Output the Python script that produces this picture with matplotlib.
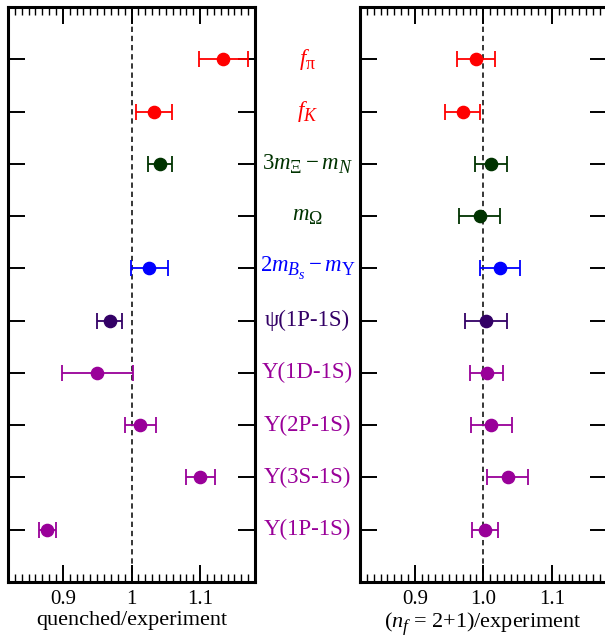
import numpy as np
import matplotlib
matplotlib.use('Agg')
import matplotlib.pyplot as plt
from matplotlib.ticker import MultipleLocator, FixedLocator, FixedFormatter
import matplotlib.transforms as mtransforms

try:
    import matplotlib._mathtext as _mt
    _mt.SHRINK_FACTOR = 0.78
    _mt.FontConstantsBase.sub1 = 0.45
    _mt.FontConstantsBase.sub2 = 0.55
except Exception:
    pass

plt.rcParams['font.family'] = ['Liberation Serif', 'DejaVu Serif']
plt.rcParams['mathtext.fontset'] = 'custom'
plt.rcParams['mathtext.rm'] = 'Liberation Serif'
plt.rcParams['mathtext.it'] = 'Liberation Serif:italic'
plt.rcParams['mathtext.bf'] = 'Liberation Serif:bold'

# ---- data ----
labels = [r'$f_{\mathrm{π}}$', r'$f_K$', r'$3m_{\mathrm{Ξ}} - m_N$', r'$m_{\mathrm{Ω}}$',
          r'$2m_{B_s} - m_{\mathrm{Υ}}$', 'ψ(1P-1S)', 'Υ(1D-1S)', 'Υ(2P-1S)',
          'Υ(3S-1S)', 'Υ(1P-1S)']
row_colors = ['#ff0000', '#ff0000', '#003300', '#003300', '#0000ff', '#330066',
              '#990099', '#990099', '#990099', '#990099']
quenched = [1.134, 1.033, 1.042, np.nan, 1.026, 0.968, 0.950, 1.013, 1.100, 0.877]
quenched_err = [0.036, 0.026, 0.0175, np.nan, 0.027, 0.018, 0.052, 0.023, 0.021, 0.0125]
unquenched = [0.989, 0.970, 1.011, 0.995, 1.024, 1.004, 1.005, 1.012, 1.036, 1.003]
unquenched_err = [0.028, 0.0256, 0.023, 0.030, 0.029, 0.030, 0.024, 0.030, 0.030, 0.019]
left_ticks = [0.9, 1.0, 1.1]
left_ticklabels = ['0.9', '1', '1.1']
right_ticks = [0.9, 1.0, 1.1]
right_ticklabels = ['0.9', '1.0', '1.1']
left_xlabel = 'quenched/experiment'
right_xlabel = r'($n_f$ = 2+1)/experiment'

W, H = 605, 641
fig = plt.figure(figsize=(W / 100, H / 100), dpi=100)

ax1 = fig.add_axes([8 / W, (H - 582) / H, 247 / W, 575 / H])
ax2 = fig.add_axes([360 / W, (H - 582) / H, 246.5 / W, 575 / H])

n = len(labels)
rows = np.arange(n, 0, -1)

def style(ax, vals, errs, ticks, ticklabels, xlabel):
    ax.set_xlim(0.82, 1.18)
    ax.set_ylim(0, n + 1)
    ax.axvline(1.0, color='black', lw=1.1, ls=(0, (3.5, 2.5)), zorder=1)
    for y, v, e, c in zip(rows, vals, errs, row_colors):
        if np.isnan(v):
            continue
        ax.errorbar([v], [y], xerr=[e], fmt='o', color=c, ms=8.8, capsize=6,
                    elinewidth=1.3, capthick=1.3, zorder=3)
    for s in ax.spines.values():
        s.set_linewidth(2.2)
    ax.xaxis.set_major_locator(FixedLocator(ticks))
    ax.xaxis.set_major_formatter(FixedFormatter(ticklabels))
    ax.xaxis.set_minor_locator(MultipleLocator(0.01))
    ax.yaxis.set_major_locator(FixedLocator(list(rows)))
    ax.set_yticklabels([])
    ax.tick_params(axis='x', which='major', direction='in', top=True, bottom=True,
                   length=12, width=1.4, labelsize=15, pad=6)
    ax.tick_params(axis='x', which='minor', direction='in', top=True, bottom=True,
                   length=5.5, width=1.0)
    ax.tick_params(axis='y', which='major', direction='in', left=True, right=True,
                   length=12, width=1.4, labelleft=False)
    ax.set_xlabel(xlabel, fontsize=16, labelpad=1)

style(ax1, quenched, quenched_err, left_ticks, left_ticklabels, left_xlabel)
style(ax2, unquenched, unquenched_err, right_ticks, right_ticklabels, right_xlabel)

trans = mtransforms.blended_transform_factory(fig.transFigure, ax1.transData)
for y, lab, c in zip(rows, labels, row_colors):
    fig.text(307.5 / W, y, lab, transform=trans, ha='center', va='center',
             color=c, fontsize=16.5)

fig.savefig('out.png', dpi=100)
